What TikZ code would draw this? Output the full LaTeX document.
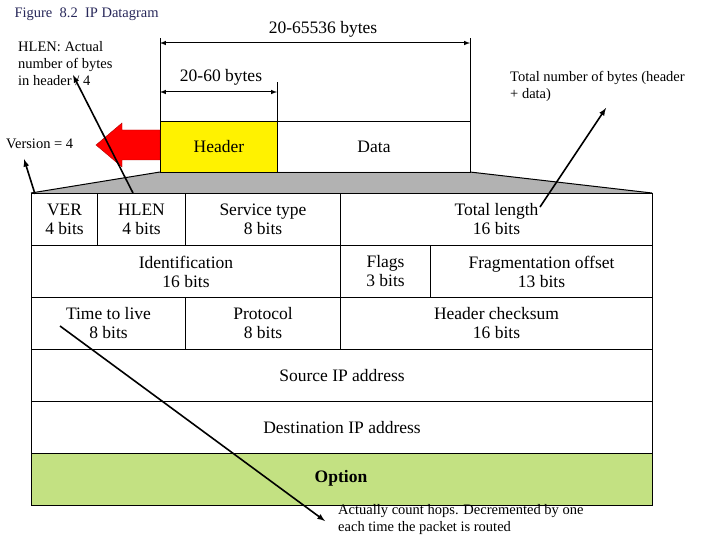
\documentclass[tikz,border=0pt]{standalone}
\usepackage{fontspec}
\setmainfont{Liberation Serif}
\begin{document}
\begin{tikzpicture}[x=1pt,y=-1pt,
 cell/.style={draw=black,line width=1pt},
 lbl/.style={font=\fontsize{17.5}{19}\selectfont,align=center},
 note/.style={font=\fontsize{14.5}{17}\selectfont,align=left,text=black},
 ann/.style={-latex,line width=1.6pt},
 dim/.style={latex-latex,line width=1pt}]
\useasboundingbox[fill=white] (0,0) rectangle (720,540);
\node[anchor=west,font=\fontsize{14.5}{17}\selectfont,text={rgb,255:red,40;green,40;blue,90}] (title) at (11,14) {Figure\ \ 8.2\ \ IP Datagram};
% trapezoid
\fill[gray!60] (160,172) -- (470,172) -- (652,193) -- (31,193) -- cycle;
\draw[line width=1pt] (160,172) -- (31,193) (470,172) -- (652,193);
% header/data
\node[cell,fill=yellow,minimum width=117pt,minimum height=51pt,anchor=north west,lbl] (hdr) at (160,121) {Header};
\node[cell,minimum width=193pt,minimum height=51pt,anchor=north west,lbl] (data) at (277,121) {Data};
\draw[line width=1pt] (160,121) -- (160,38) (470,121) -- (470,38) (277,121) -- (277,82);
\coordinate (a1) at (160,43); \coordinate (a2) at (470,43);
\coordinate (b1) at (160,92); \coordinate (b2) at (277,92);
\draw[dim] (a1) -- (a2); \draw[dim] (b1) -- (b2);
\node[lbl] (tot) at (323,29) {20-65536 bytes};
\node[lbl] (hb) at (221,77) {20-60 bytes};
% red arrow
\fill[red,draw=red!70!black] (160,130) -- (122,130) -- (122,123) -- (96,145) -- (122,167) -- (122,160) -- (160,160) -- cycle;
% table
\newcommand{\cellbox}[6]{\node[cell,minimum width=#4-#2,minimum height=#5-#3,anchor=north west,lbl,inner sep=0pt] (#1) at (#2,#3) {#6};}
\cellbox{ver}{31}{193}{97}{245}{VER\\4 bits}
\cellbox{hlen}{97}{193}{185}{245}{HLEN\\4 bits}
\cellbox{st}{185}{193}{340}{245}{Service type\\8 bits}
\cellbox{tl}{340}{193}{652}{245}{Total length\\16 bits}
\cellbox{id}{31}{245}{340}{297}{Identification\\16 bits}
\cellbox{fl}{340}{245}{430}{297}{Flags\\3 bits}
\cellbox{fo}{430}{245}{652}{297}{Fragmentation offset\\13 bits}
\cellbox{ttl}{31}{297}{185}{349}{Time to live\\8 bits}
\cellbox{pr}{185}{297}{340}{349}{Protocol\\8 bits}
\cellbox{hc}{340}{297}{652}{349}{Header checksum\\16 bits}
\cellbox{src}{31}{349}{652}{401}{Source IP address}
\cellbox{dst}{31}{401}{652}{453}{Destination IP address}
\node[cell,fill={rgb,255:red,195;green,225;blue,130},minimum width=621pt,minimum height=52pt,anchor=north west,inner sep=0pt] (opt) at (31,453) {};
\node[font=\bfseries\fontsize{17.5}{19}\selectfont] (optl) at (341,478) {Option};
% notes
\node[note,anchor=north west,inner sep=1pt] (n1) at (17,40) {HLEN: Actual\\number of bytes\\in header / 4};
\node[note,anchor=west,inner sep=1pt] (n2) at (5,144) {Version = 4};
\node[note,anchor=north west,inner sep=1pt] (n3) at (509,70) {Total number of bytes (header\\+ data)};
\node[note,anchor=north west,inner sep=1pt] (n4) at (337,503) {Actually count hops. Decremented by one\\each time the packet is routed};
\coordinate (e1) at (73,75); \coordinate (s1) at (133,193);
\coordinate (e2) at (24,159); \coordinate (s2) at (35,194);
\coordinate (e3) at (606,108); \coordinate (s3) at (540,207);
\coordinate (e4) at (325,521); \coordinate (s4) at (60,326);
\draw[ann] (s1) -- (e1); \draw[ann] (s2) -- (e2); \draw[ann] (s3) -- (e3); \draw[ann] (s4) -- (e4);
\end{tikzpicture}
\end{document}
